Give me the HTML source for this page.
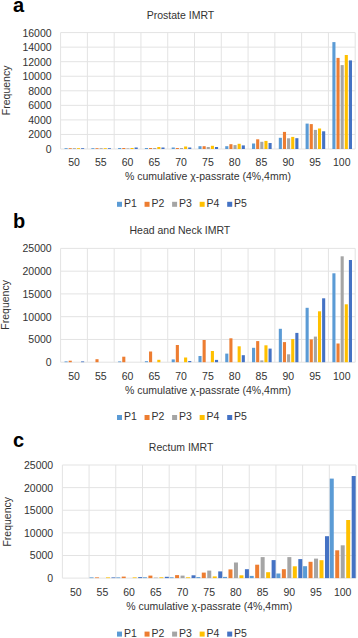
<!DOCTYPE html>
<html><head><meta charset="utf-8"><style>
html,body{margin:0;padding:0;background:#fff;}
body{width:358px;height:638px;overflow:hidden;}
svg{display:block;font-family:"Liberation Sans", sans-serif;font-size:10.5px;}
</style></head><body>
<svg width="358" height="638" viewBox="0 0 358 638">
<text x="13" y="11.5" font-size="20" font-weight="bold" fill="#000">a</text>
<text x="180.5" y="18.6" text-anchor="middle" fill="#333333">Prostate IMRT</text>
<path d="M60.6 32.6H355.2 M60.6 47.15H355.2 M60.6 61.7H355.2 M60.6 76.25H355.2 M60.6 90.8H355.2 M60.6 105.35H355.2 M60.6 119.9H355.2 M60.6 134.45H355.2 M60.6 149H355.2 M60.6 32.6V149 M87.38 32.6V149 M114.16 32.6V149 M140.95 32.6V149 M167.73 32.6V149 M194.51 32.6V149 M221.29 32.6V149 M248.07 32.6V149 M274.85 32.6V149 M301.64 32.6V149 M328.42 32.6V149 M355.2 32.6V149" stroke="#e3e3e3" stroke-width="1" fill="none"/>
<text x="51.6" y="36.5" text-anchor="end" fill="#333333">16000</text>
<text x="51.6" y="51.05" text-anchor="end" fill="#333333">14000</text>
<text x="51.6" y="65.6" text-anchor="end" fill="#333333">12000</text>
<text x="51.6" y="80.15" text-anchor="end" fill="#333333">10000</text>
<text x="51.6" y="94.7" text-anchor="end" fill="#333333">8000</text>
<text x="51.6" y="109.25" text-anchor="end" fill="#333333">6000</text>
<text x="51.6" y="123.8" text-anchor="end" fill="#333333">4000</text>
<text x="51.6" y="138.35" text-anchor="end" fill="#333333">2000</text>
<text x="51.6" y="152.9" text-anchor="end" fill="#333333">0</text>
<text transform="translate(9.8 90.4) rotate(-90)" text-anchor="middle" fill="#333333">Frequency</text>
<rect x="64.55" y="148.2" width="3.1" height="0.8" fill="#5B9BD5"/>
<rect x="68.68" y="148.2" width="3.1" height="0.8" fill="#ED7D31"/>
<rect x="72.81" y="148.2" width="3.1" height="0.8" fill="#A5A5A5"/>
<rect x="76.94" y="148.2" width="3.1" height="0.8" fill="#FFC000"/>
<rect x="81.07" y="148.2" width="3.1" height="0.8" fill="#4472C4"/>
<rect x="91.33" y="148.2" width="3.1" height="0.8" fill="#5B9BD5"/>
<rect x="95.46" y="148.2" width="3.1" height="0.8" fill="#ED7D31"/>
<rect x="99.59" y="148.2" width="3.1" height="0.8" fill="#A5A5A5"/>
<rect x="103.72" y="148.2" width="3.1" height="0.8" fill="#FFC000"/>
<rect x="107.85" y="148.2" width="3.1" height="0.8" fill="#4472C4"/>
<rect x="118.11" y="148" width="3.1" height="1" fill="#5B9BD5"/>
<rect x="122.24" y="148" width="3.1" height="1" fill="#ED7D31"/>
<rect x="126.37" y="148.4" width="3.1" height="0.6" fill="#A5A5A5"/>
<rect x="130.5" y="148" width="3.1" height="1" fill="#FFC000"/>
<rect x="134.63" y="147.5" width="3.1" height="1.5" fill="#4472C4"/>
<rect x="144.9" y="148" width="3.1" height="1" fill="#5B9BD5"/>
<rect x="149.03" y="148" width="3.1" height="1" fill="#ED7D31"/>
<rect x="153.16" y="148" width="3.1" height="1" fill="#A5A5A5"/>
<rect x="157.29" y="147" width="3.1" height="2" fill="#FFC000"/>
<rect x="161.42" y="147.5" width="3.1" height="1.5" fill="#4472C4"/>
<rect x="171.68" y="147.5" width="3.1" height="1.5" fill="#5B9BD5"/>
<rect x="175.81" y="148" width="3.1" height="1" fill="#ED7D31"/>
<rect x="179.94" y="148" width="3.1" height="1" fill="#A5A5A5"/>
<rect x="184.07" y="146.5" width="3.1" height="2.5" fill="#FFC000"/>
<rect x="188.2" y="147.5" width="3.1" height="1.5" fill="#4472C4"/>
<rect x="198.46" y="146.2" width="3.1" height="2.8" fill="#5B9BD5"/>
<rect x="202.59" y="146.2" width="3.1" height="2.8" fill="#ED7D31"/>
<rect x="206.72" y="147" width="3.1" height="2" fill="#A5A5A5"/>
<rect x="210.85" y="145.8" width="3.1" height="3.2" fill="#FFC000"/>
<rect x="214.98" y="147" width="3.1" height="2" fill="#4472C4"/>
<rect x="225.24" y="146.2" width="3.1" height="2.8" fill="#5B9BD5"/>
<rect x="229.37" y="144.2" width="3.1" height="4.8" fill="#ED7D31"/>
<rect x="233.5" y="145.1" width="3.1" height="3.9" fill="#A5A5A5"/>
<rect x="237.63" y="143.8" width="3.1" height="5.2" fill="#FFC000"/>
<rect x="241.76" y="145.4" width="3.1" height="3.6" fill="#4472C4"/>
<rect x="252.02" y="143.5" width="3.1" height="5.5" fill="#5B9BD5"/>
<rect x="256.15" y="139.3" width="3.1" height="9.7" fill="#ED7D31"/>
<rect x="260.28" y="141.8" width="3.1" height="7.2" fill="#A5A5A5"/>
<rect x="264.41" y="140.9" width="3.1" height="8.1" fill="#FFC000"/>
<rect x="268.54" y="143" width="3.1" height="6" fill="#4472C4"/>
<rect x="278.8" y="137.8" width="3.1" height="11.2" fill="#5B9BD5"/>
<rect x="282.93" y="131.9" width="3.1" height="17.1" fill="#ED7D31"/>
<rect x="287.06" y="138.3" width="3.1" height="10.7" fill="#A5A5A5"/>
<rect x="291.19" y="136.9" width="3.1" height="12.1" fill="#FFC000"/>
<rect x="295.32" y="138.2" width="3.1" height="10.8" fill="#4472C4"/>
<rect x="305.59" y="123.6" width="3.1" height="25.4" fill="#5B9BD5"/>
<rect x="309.72" y="124.1" width="3.1" height="24.9" fill="#ED7D31"/>
<rect x="313.85" y="129.9" width="3.1" height="19.1" fill="#A5A5A5"/>
<rect x="317.98" y="128.5" width="3.1" height="20.5" fill="#FFC000"/>
<rect x="322.11" y="131.3" width="3.1" height="17.7" fill="#4472C4"/>
<rect x="332.37" y="42.1" width="3.1" height="106.9" fill="#5B9BD5"/>
<rect x="336.5" y="57.9" width="3.1" height="91.1" fill="#ED7D31"/>
<rect x="340.63" y="65.1" width="3.1" height="83.9" fill="#A5A5A5"/>
<rect x="344.76" y="55" width="3.1" height="94" fill="#FFC000"/>
<rect x="348.89" y="60.4" width="3.1" height="88.6" fill="#4472C4"/>
<text x="73.99" y="165.6" text-anchor="middle" fill="#333333">50</text>
<text x="100.77" y="165.6" text-anchor="middle" fill="#333333">55</text>
<text x="127.55" y="165.6" text-anchor="middle" fill="#333333">60</text>
<text x="154.34" y="165.6" text-anchor="middle" fill="#333333">65</text>
<text x="181.12" y="165.6" text-anchor="middle" fill="#333333">70</text>
<text x="207.9" y="165.6" text-anchor="middle" fill="#333333">75</text>
<text x="234.68" y="165.6" text-anchor="middle" fill="#333333">80</text>
<text x="261.46" y="165.6" text-anchor="middle" fill="#333333">85</text>
<text x="288.25" y="165.6" text-anchor="middle" fill="#333333">90</text>
<text x="315.03" y="165.6" text-anchor="middle" fill="#333333">95</text>
<text x="341.81" y="165.6" text-anchor="middle" fill="#333333">100</text>
<text x="207.9" y="179.6" text-anchor="middle" fill="#333333">% cumulative χ-passrate (4%,4mm)</text>
<rect x="117" y="201.8" width="5" height="5" fill="#5B9BD5"/>
<text x="123.9" y="207" fill="#333333">P1</text>
<rect x="144.55" y="201.8" width="5" height="5" fill="#ED7D31"/>
<text x="151.45" y="207" fill="#333333">P2</text>
<rect x="172.1" y="201.8" width="5" height="5" fill="#A5A5A5"/>
<text x="179" y="207" fill="#333333">P3</text>
<rect x="199.65" y="201.8" width="5" height="5" fill="#FFC000"/>
<text x="206.55" y="207" fill="#333333">P4</text>
<rect x="227.2" y="201.8" width="5" height="5" fill="#4472C4"/>
<text x="234.1" y="207" fill="#333333">P5</text>
<text x="13" y="228.4" font-size="20" font-weight="bold" fill="#000">b</text>
<text x="179.9" y="233.5" text-anchor="middle" fill="#333333">Head and Neck IMRT</text>
<path d="M60.6 248.4H355.2 M60.6 271.16H355.2 M60.6 293.92H355.2 M60.6 316.68H355.2 M60.6 339.44H355.2 M60.6 362.2H355.2 M60.6 248.4V362.2 M87.38 248.4V362.2 M114.16 248.4V362.2 M140.95 248.4V362.2 M167.73 248.4V362.2 M194.51 248.4V362.2 M221.29 248.4V362.2 M248.07 248.4V362.2 M274.85 248.4V362.2 M301.64 248.4V362.2 M328.42 248.4V362.2 M355.2 248.4V362.2" stroke="#e3e3e3" stroke-width="1" fill="none"/>
<text x="51.7" y="252.3" text-anchor="end" fill="#333333">25000</text>
<text x="51.7" y="275.06" text-anchor="end" fill="#333333">20000</text>
<text x="51.7" y="297.82" text-anchor="end" fill="#333333">15000</text>
<text x="51.7" y="320.58" text-anchor="end" fill="#333333">10000</text>
<text x="51.7" y="343.34" text-anchor="end" fill="#333333">5000</text>
<text x="51.7" y="366.1" text-anchor="end" fill="#333333">0</text>
<text transform="translate(8.8 304.9) rotate(-90)" text-anchor="middle" fill="#333333">Frequency</text>
<rect x="64.55" y="361.4" width="3.1" height="0.8" fill="#5B9BD5"/>
<rect x="68.68" y="360.7" width="3.1" height="1.5" fill="#ED7D31"/>
<rect x="81.07" y="361.4" width="3.1" height="0.8" fill="#4472C4"/>
<rect x="95.46" y="359.2" width="3.1" height="3" fill="#ED7D31"/>
<rect x="118.11" y="361.4" width="3.1" height="0.8" fill="#5B9BD5"/>
<rect x="122.24" y="356.7" width="3.1" height="5.5" fill="#ED7D31"/>
<rect x="144.9" y="361.2" width="3.1" height="1" fill="#5B9BD5"/>
<rect x="149.03" y="351.5" width="3.1" height="10.7" fill="#ED7D31"/>
<rect x="157.29" y="359.8" width="3.1" height="2.4" fill="#FFC000"/>
<rect x="171.68" y="359.4" width="3.1" height="2.8" fill="#5B9BD5"/>
<rect x="175.81" y="345" width="3.1" height="17.2" fill="#ED7D31"/>
<rect x="184.07" y="357.5" width="3.1" height="4.7" fill="#FFC000"/>
<rect x="188.2" y="361" width="3.1" height="1.2" fill="#4472C4"/>
<rect x="198.46" y="356" width="3.1" height="6.2" fill="#5B9BD5"/>
<rect x="202.59" y="340" width="3.1" height="22.2" fill="#ED7D31"/>
<rect x="210.85" y="351" width="3.1" height="11.2" fill="#FFC000"/>
<rect x="214.98" y="359.9" width="3.1" height="2.3" fill="#4472C4"/>
<rect x="225.24" y="353.6" width="3.1" height="8.6" fill="#5B9BD5"/>
<rect x="229.37" y="338.3" width="3.1" height="23.9" fill="#ED7D31"/>
<rect x="237.63" y="346.3" width="3.1" height="15.9" fill="#FFC000"/>
<rect x="241.76" y="355.2" width="3.1" height="7" fill="#4472C4"/>
<rect x="252.02" y="347.8" width="3.1" height="14.4" fill="#5B9BD5"/>
<rect x="256.15" y="341.1" width="3.1" height="21.1" fill="#ED7D31"/>
<rect x="260.28" y="360.4" width="3.1" height="1.8" fill="#A5A5A5"/>
<rect x="264.41" y="345.3" width="3.1" height="16.9" fill="#FFC000"/>
<rect x="268.54" y="348.6" width="3.1" height="13.6" fill="#4472C4"/>
<rect x="278.8" y="328.8" width="3.1" height="33.4" fill="#5B9BD5"/>
<rect x="282.93" y="342.1" width="3.1" height="20.1" fill="#ED7D31"/>
<rect x="287.06" y="354.3" width="3.1" height="7.9" fill="#A5A5A5"/>
<rect x="291.19" y="339.1" width="3.1" height="23.1" fill="#FFC000"/>
<rect x="295.32" y="332.9" width="3.1" height="29.3" fill="#4472C4"/>
<rect x="305.59" y="307.8" width="3.1" height="54.4" fill="#5B9BD5"/>
<rect x="309.72" y="339.4" width="3.1" height="22.8" fill="#ED7D31"/>
<rect x="313.85" y="336.6" width="3.1" height="25.6" fill="#A5A5A5"/>
<rect x="317.98" y="311.3" width="3.1" height="50.9" fill="#FFC000"/>
<rect x="322.11" y="298.3" width="3.1" height="63.9" fill="#4472C4"/>
<rect x="332.37" y="273.3" width="3.1" height="88.9" fill="#5B9BD5"/>
<rect x="336.5" y="343.5" width="3.1" height="18.7" fill="#ED7D31"/>
<rect x="340.63" y="256.3" width="3.1" height="105.9" fill="#A5A5A5"/>
<rect x="344.76" y="304.3" width="3.1" height="57.9" fill="#FFC000"/>
<rect x="348.89" y="260" width="3.1" height="102.2" fill="#4472C4"/>
<text x="73.99" y="379.7" text-anchor="middle" fill="#333333">50</text>
<text x="100.77" y="379.7" text-anchor="middle" fill="#333333">55</text>
<text x="127.55" y="379.7" text-anchor="middle" fill="#333333">60</text>
<text x="154.34" y="379.7" text-anchor="middle" fill="#333333">65</text>
<text x="181.12" y="379.7" text-anchor="middle" fill="#333333">70</text>
<text x="207.9" y="379.7" text-anchor="middle" fill="#333333">75</text>
<text x="234.68" y="379.7" text-anchor="middle" fill="#333333">80</text>
<text x="261.46" y="379.7" text-anchor="middle" fill="#333333">85</text>
<text x="288.25" y="379.7" text-anchor="middle" fill="#333333">90</text>
<text x="315.03" y="379.7" text-anchor="middle" fill="#333333">95</text>
<text x="341.81" y="379.7" text-anchor="middle" fill="#333333">100</text>
<text x="207.9" y="394.3" text-anchor="middle" fill="#333333">% cumulative χ-passrate (4%,4mm)</text>
<rect x="117" y="415" width="5" height="5" fill="#5B9BD5"/>
<text x="123.9" y="420.2" fill="#333333">P1</text>
<rect x="144.55" y="415" width="5" height="5" fill="#ED7D31"/>
<text x="151.45" y="420.2" fill="#333333">P2</text>
<rect x="172.1" y="415" width="5" height="5" fill="#A5A5A5"/>
<text x="179" y="420.2" fill="#333333">P3</text>
<rect x="199.65" y="415" width="5" height="5" fill="#FFC000"/>
<text x="206.55" y="420.2" fill="#333333">P4</text>
<rect x="227.2" y="415" width="5" height="5" fill="#4472C4"/>
<text x="234.1" y="420.2" fill="#333333">P5</text>
<text x="13" y="447.4" font-size="20" font-weight="bold" fill="#000">c</text>
<text x="181.1" y="450.7" text-anchor="middle" fill="#333333">Rectum IMRT</text>
<path d="M62.4 465H356 M62.4 487.62H356 M62.4 510.24H356 M62.4 532.86H356 M62.4 555.48H356 M62.4 578.1H356 M62.4 465V578.1 M89.09 465V578.1 M115.78 465V578.1 M142.47 465V578.1 M169.16 465V578.1 M195.85 465V578.1 M222.55 465V578.1 M249.24 465V578.1 M275.93 465V578.1 M302.62 465V578.1 M329.31 465V578.1 M356 465V578.1" stroke="#e3e3e3" stroke-width="1" fill="none"/>
<text x="53.2" y="468.9" text-anchor="end" fill="#333333">25000</text>
<text x="53.2" y="491.52" text-anchor="end" fill="#333333">20000</text>
<text x="53.2" y="514.14" text-anchor="end" fill="#333333">15000</text>
<text x="53.2" y="536.76" text-anchor="end" fill="#333333">10000</text>
<text x="53.2" y="559.38" text-anchor="end" fill="#333333">5000</text>
<text x="53.2" y="582" text-anchor="end" fill="#333333">0</text>
<text transform="translate(10.6 521.8) rotate(-90)" text-anchor="middle" fill="#333333">Frequency</text>
<rect x="89.54" y="577.4" width="4" height="0.7" fill="#5B9BD5"/>
<rect x="95.02" y="577.4" width="4" height="0.7" fill="#ED7D31"/>
<rect x="105.98" y="577.4" width="4" height="0.7" fill="#FFC000"/>
<rect x="111.46" y="577.4" width="4" height="0.7" fill="#4472C4"/>
<rect x="116.23" y="577.4" width="4" height="0.7" fill="#5B9BD5"/>
<rect x="121.71" y="576.6" width="4" height="1.5" fill="#ED7D31"/>
<rect x="132.67" y="577.4" width="4" height="0.7" fill="#FFC000"/>
<rect x="138.15" y="577.1" width="4" height="1" fill="#4472C4"/>
<rect x="142.92" y="577.3" width="4" height="0.8" fill="#5B9BD5"/>
<rect x="148.4" y="575.6" width="4" height="2.5" fill="#ED7D31"/>
<rect x="153.88" y="577.6" width="4" height="0.5" fill="#A5A5A5"/>
<rect x="159.36" y="577.3" width="4" height="0.8" fill="#FFC000"/>
<rect x="164.84" y="576.8" width="4" height="1.3" fill="#4472C4"/>
<rect x="169.61" y="577.3" width="4" height="0.8" fill="#5B9BD5"/>
<rect x="175.09" y="575.1" width="4" height="3" fill="#ED7D31"/>
<rect x="180.57" y="575.6" width="4" height="2.5" fill="#A5A5A5"/>
<rect x="186.05" y="577.3" width="4" height="0.8" fill="#FFC000"/>
<rect x="191.53" y="575.3" width="4" height="2.8" fill="#4472C4"/>
<rect x="196.3" y="577.1" width="4" height="1" fill="#5B9BD5"/>
<rect x="201.78" y="572.6" width="4" height="5.5" fill="#ED7D31"/>
<rect x="207.26" y="570.6" width="4" height="7.5" fill="#A5A5A5"/>
<rect x="212.74" y="576.4" width="4" height="1.7" fill="#FFC000"/>
<rect x="218.22" y="571.4" width="4" height="6.7" fill="#4472C4"/>
<rect x="223" y="576.9" width="4" height="1.2" fill="#5B9BD5"/>
<rect x="228.48" y="569.4" width="4" height="8.7" fill="#ED7D31"/>
<rect x="233.96" y="562.5" width="4" height="15.6" fill="#A5A5A5"/>
<rect x="239.44" y="575.3" width="4" height="2.8" fill="#FFC000"/>
<rect x="244.92" y="569.2" width="4" height="8.9" fill="#4472C4"/>
<rect x="249.69" y="575.9" width="4" height="2.2" fill="#5B9BD5"/>
<rect x="255.17" y="564.7" width="4" height="13.4" fill="#ED7D31"/>
<rect x="260.65" y="557.1" width="4" height="21" fill="#A5A5A5"/>
<rect x="266.13" y="572.2" width="4" height="5.9" fill="#FFC000"/>
<rect x="271.61" y="560.1" width="4" height="18" fill="#4472C4"/>
<rect x="276.38" y="573.5" width="4" height="4.6" fill="#5B9BD5"/>
<rect x="281.86" y="569.2" width="4" height="8.9" fill="#ED7D31"/>
<rect x="287.34" y="557.1" width="4" height="21" fill="#A5A5A5"/>
<rect x="292.82" y="566.3" width="4" height="11.8" fill="#FFC000"/>
<rect x="298.3" y="559.1" width="4" height="19" fill="#4472C4"/>
<rect x="303.07" y="566.2" width="4" height="11.9" fill="#5B9BD5"/>
<rect x="308.55" y="561.8" width="4" height="16.3" fill="#ED7D31"/>
<rect x="314.03" y="558.6" width="4" height="19.5" fill="#A5A5A5"/>
<rect x="319.51" y="560.2" width="4" height="17.9" fill="#FFC000"/>
<rect x="324.99" y="536.2" width="4" height="41.9" fill="#4472C4"/>
<rect x="329.76" y="478.6" width="4" height="99.5" fill="#5B9BD5"/>
<rect x="335.24" y="550.3" width="4" height="27.8" fill="#ED7D31"/>
<rect x="340.72" y="545.3" width="4" height="32.8" fill="#A5A5A5"/>
<rect x="346.2" y="520" width="4" height="58.1" fill="#FFC000"/>
<rect x="351.68" y="476" width="4" height="102.1" fill="#4472C4"/>
<text x="75.75" y="595.6" text-anchor="middle" fill="#333333">50</text>
<text x="102.44" y="595.6" text-anchor="middle" fill="#333333">55</text>
<text x="129.13" y="595.6" text-anchor="middle" fill="#333333">60</text>
<text x="155.82" y="595.6" text-anchor="middle" fill="#333333">65</text>
<text x="182.51" y="595.6" text-anchor="middle" fill="#333333">70</text>
<text x="209.2" y="595.6" text-anchor="middle" fill="#333333">75</text>
<text x="235.89" y="595.6" text-anchor="middle" fill="#333333">80</text>
<text x="262.58" y="595.6" text-anchor="middle" fill="#333333">85</text>
<text x="289.27" y="595.6" text-anchor="middle" fill="#333333">90</text>
<text x="315.96" y="595.6" text-anchor="middle" fill="#333333">95</text>
<text x="342.65" y="595.6" text-anchor="middle" fill="#333333">100</text>
<text x="209.2" y="610.1" text-anchor="middle" fill="#333333">% cumulative χ-passrate (4%,4mm)</text>
<rect x="117" y="631.6" width="5" height="5" fill="#5B9BD5"/>
<text x="123.9" y="636.8" fill="#333333">P1</text>
<rect x="144.55" y="631.6" width="5" height="5" fill="#ED7D31"/>
<text x="151.45" y="636.8" fill="#333333">P2</text>
<rect x="172.1" y="631.6" width="5" height="5" fill="#A5A5A5"/>
<text x="179" y="636.8" fill="#333333">P3</text>
<rect x="199.65" y="631.6" width="5" height="5" fill="#FFC000"/>
<text x="206.55" y="636.8" fill="#333333">P4</text>
<rect x="227.2" y="631.6" width="5" height="5" fill="#4472C4"/>
<text x="234.1" y="636.8" fill="#333333">P5</text>
</svg>
</body></html>
